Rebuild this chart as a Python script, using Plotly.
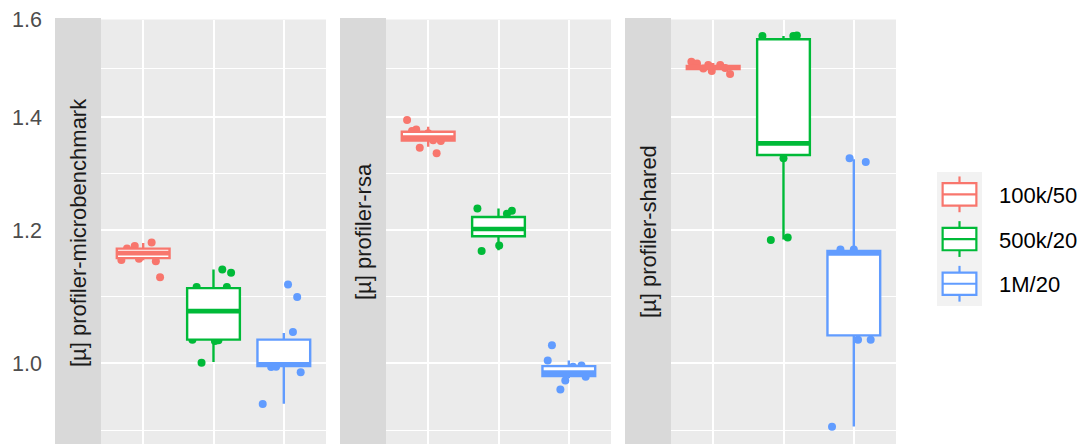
import math
import plotly.graph_objects as go

W, H = 1080, 444

groups = ["100k/50", "500k/20", "1M/20"]
group_colors = ["#F8766D", "#00BA38", "#619CFF"]
facets = ["[µ] profiler-microbenchmark", "[µ] profiler-rsa", "[µ] profiler-shared"]

# --- profiler-microbenchmark -------------------------------------------
micro_values = [
    [1.180, 1.125, 1.174, 1.170, 1.152, 1.154, 1.150, 1.160, 1.166],
    [1.137, 1.132, 1.110, 1.110, 1.033, 1.031, 1.032, 1.001, 1.075, 1.090],
    [1.114, 1.095, 1.044, 0.995, 0.988, 0.946, 0.9955, 1.010, 1.020],
]
micro_jitter = [
    [0.12, 0.24, -0.12, -0.23, -0.31, -0.06, 0.18, 0.05, -0.15],
    [0.125, 0.25, -0.24, 0.19, -0.30, 0.02, 0.07, -0.17, 0.10, -0.10],
    [0.06, 0.19, 0.13, -0.18, 0.24, -0.30, -0.11, 0.05, -0.20],
]
micro_q1 = [1.1548, 1.033, 0.9963]
micro_median = [1.1628, 1.0742, 0.9986]
micro_q3 = [1.1699, 1.1085, 1.033]
micro_lower = [1.1516, 1.0018, 0.9463]
micro_upper = [1.179, 1.1369, 1.0424]

# --- profiler-rsa --------------------------------------------------------
rsa_values = [
    [1.395, 1.377, 1.374, 1.370, 1.343, 1.333, 1.3555, 1.357, 1.365],
    [1.236, 1.232, 1.227, 1.166, 1.175, 1.200, 1.210],
    [1.025, 1.004, 0.997, 0.982, 0.977, 0.965, 0.9955, 0.988],
]
rsa_jitter = [
    [-0.30, -0.17, -0.23, 0.0, -0.12, 0.12, 0.18, 0.07, -0.05],
    [-0.30, 0.19, 0.12, -0.24, 0.01, 0.10, -0.10],
    [-0.24, -0.30, 0.18, 0.24, -0.05, -0.12, 0.06, 0.0],
]
rsa_q1 = [1.3566, 1.190, 0.9828]
rsa_median = [1.3619, 1.2018, 0.9873]
rsa_q3 = [1.3728, 1.2217, 0.9963]
rsa_lower = [1.3448, 1.1674, 0.9797]
rsa_upper = [1.382, 1.2358, 1.0041]

# --- profiler-shared -----------------------------------------------------
shared_values = [
    [1.511, 1.504, 1.504, 1.492, 1.4855, 1.497, 1.507, 1.498],
    [1.565, 1.565, 1.566, 1.324, 1.184, 1.188, 1.450, 1.500],
    [1.324, 1.317, 1.1685, 1.1685, 1.033, 1.033, 0.917, 1.100],
]
shared_jitter = [
    [-0.31, -0.07, 0.10, -0.02, 0.24, -0.14, -0.23, 0.17],
    [-0.30, 0.14, 0.19, 0.0, -0.18, 0.06, 0.10, -0.10],
    [-0.06, 0.17, -0.19, 0.0, 0.06, 0.24, -0.31, 0.10],
]
shared_q1 = [1.496, 1.3298, 1.0391]
shared_median = [1.499, 1.3512, 1.1623]
shared_q3 = [1.502, 1.5579, 1.1663]
shared_lower = [1.490, 1.1845, 0.9174]
shared_upper = [1.508, 1.565, 1.322]

y_ticks = [1.0, 1.2, 1.4, 1.6]
y_ticktext = ["1.0", "1.2", "1.4", "1.6"]

facet_data = [
    dict(values=micro_values, jitter=micro_jitter, q1=micro_q1, med=micro_median,
         q3=micro_q3, lo=micro_lower, hi=micro_upper),
    dict(values=rsa_values, jitter=rsa_jitter, q1=rsa_q1, med=rsa_median,
         q3=rsa_q3, lo=rsa_lower, hi=rsa_upper),
    dict(values=shared_values, jitter=shared_jitter, q1=shared_q1, med=shared_median,
         q3=shared_q3, lo=shared_lower, hi=shared_upper),
]

# ---- geometry (pixels) -----------------------------------------------------
FONT = "Liberation Sans, Arial, Helvetica, sans-serif"
panel_x0 = [101, 386, 671]
panel_w = 225
strip_w = 46
panel_top = 19.5
strip_top = 18
box_width = 0.75
box_line = 2.4
median_line = 4.7
point_size = 8
y_range = [-0.0479, 0.2043]

# ggplot-style minor breaks: midpoints between majors on the log scale
minor_ticks = [y_ticks[0] / math.sqrt(y_ticks[1] / y_ticks[0])] + [
    math.sqrt(a * b) for a, b in zip(y_ticks[:-1], y_ticks[1:])
]


def px(x):
    return x / W


def py(y):
    return 1 - y / H


fig = go.Figure()

for f, fd in enumerate(facet_data):
    xa = "x" if f == 0 else f"x{f + 1}"
    ya = "y" if f == 0 else f"y{f + 1}"
    yo = f"y{f + 4}"
    # jittered observations (underneath the boxes)
    for g, color in enumerate(group_colors):
        fig.add_trace(go.Scatter(
            x=[g + j for j in fd["jitter"][g]], y=fd["values"][g],
            mode="markers", marker=dict(size=point_size, color=color, line=dict(width=0)),
            xaxis=xa, yaxis=ya, showlegend=False, name=groups[g],
        ))
    # boxes on an overlaying axis so they sit above the points
    for g, color in enumerate(group_colors):
        fig.add_trace(go.Box(
            x=[g], q1=[fd["q1"][g]], median=[fd["med"][g]], q3=[fd["q3"][g]],
            lowerfence=[fd["lo"][g]], upperfence=[fd["hi"][g]],
            width=box_width, fillcolor="white", whiskerwidth=0,
            line=dict(color=color, width=box_line), boxpoints=False,
            xaxis=xa, yaxis=yo, showlegend=False, name=groups[g],
        ))
        fig.add_trace(go.Scatter(
            x=[g - box_width / 2, g + box_width / 2], y=[fd["med"][g]] * 2,
            mode="lines", line=dict(color=color, width=median_line),
            xaxis=xa, yaxis=yo, showlegend=False, hoverinfo="skip",
        ))

layout = dict(
    width=W, height=H, autosize=False, template="none",
    margin=dict(l=0, r=0, t=0, b=0, pad=0),
    paper_bgcolor="white", plot_bgcolor="#EBEBEB",
    font=dict(family=FONT, size=22, color="#1A1A1A"),
    showlegend=False, boxmode="overlay",
)

shapes = []
annotations = []
for f in range(3):
    sfx = "" if f == 0 else str(f + 1)
    x0 = panel_x0[f]
    layout[f"xaxis{sfx}"] = dict(
        domain=[px(x0), px(x0 + panel_w)], range=[-0.6, 2.6],
        tickvals=[0, 1, 2], ticktext=groups, showticklabels=False, ticks="",
        showgrid=True, gridcolor="white", gridwidth=2.2,
        zeroline=False, showline=False, anchor=f"y{sfx}", automargin=False,
    )
    layout[f"yaxis{sfx}"] = dict(
        domain=[0, py(panel_top)], type="log", range=y_range,
        tickvals=y_ticks, ticktext=y_ticktext, ticks="",
        showticklabels=(f == 0), ticklabelstandoff=58,
        tickfont=dict(size=21.5, color="#4D4D4D", family=FONT),
        showgrid=True, gridcolor="white", gridwidth=2.2,
        minor=dict(tickvals=minor_ticks, showgrid=True, gridcolor="white",
                   gridwidth=1.1, ticks=""),
        zeroline=False, showline=False, anchor=f"x{sfx}", automargin=False,
    )
    layout[f"yaxis{f + 4}"] = dict(
        domain=[0, py(panel_top)], type="log", range=y_range,
        overlaying=f"y{sfx}", anchor=f"x{sfx}", visible=False,
        showgrid=False, zeroline=False,
    )
    # facet strip on the left of the panel
    shapes.append(dict(
        type="rect", xref="paper", yref="paper", layer="below",
        x0=px(x0 - strip_w), x1=px(x0), y0=0, y1=py(strip_top),
        fillcolor="#D9D9D9", line=dict(width=0),
    ))
    annotations.append(dict(
        xref="paper", yref="paper", x=px(x0 - strip_w / 2), y=py(232),
        text=facets[f], textangle=-90, showarrow=False,
        xanchor="center", yanchor="middle",
        font=dict(size=22, color="#1A1A1A", family=FONT),
    ))

# legend drawn as ggplot-style boxplot keys
leg_x0, leg_x1 = 937, 982
leg_top, key_h = 172, 44.7
shapes.append(dict(
    type="rect", xref="paper", yref="paper",
    x0=px(leg_x0), x1=px(leg_x1), y0=py(leg_top + 3 * key_h), y1=py(leg_top),
    fillcolor="#F2F2F2", line=dict(width=0),
))
for i, (name, color) in enumerate(zip(groups, group_colors)):
    cy = leg_top + key_h * (i + 0.5)
    bx0 = leg_x0 + 0.125 * (leg_x1 - leg_x0)
    bx1 = leg_x0 + 0.875 * (leg_x1 - leg_x0)
    bxm = (leg_x0 + leg_x1) / 2
    half_box = 0.25 * key_h
    half_wh = 0.4 * key_h
    ln = dict(color=color, width=2.2)
    shapes.append(dict(type="line", xref="paper", yref="paper",
                       x0=px(bxm), x1=px(bxm), y0=py(cy - half_wh), y1=py(cy - half_box), line=ln))
    shapes.append(dict(type="line", xref="paper", yref="paper",
                       x0=px(bxm), x1=px(bxm), y0=py(cy + half_box), y1=py(cy + half_wh), line=ln))
    shapes.append(dict(type="rect", xref="paper", yref="paper",
                       x0=px(bx0), x1=px(bx1), y0=py(cy + half_box), y1=py(cy - half_box),
                       fillcolor="white", line=ln))
    shapes.append(dict(type="line", xref="paper", yref="paper",
                       x0=px(bx0), x1=px(bx1), y0=py(cy), y1=py(cy), line=ln))
    annotations.append(dict(
        xref="paper", yref="paper", x=px(997), y=py(cy + 1),
        text=name, showarrow=False, xanchor="left", yanchor="middle",
        font=dict(size=22, color="#000000", family=FONT),
    ))

layout["shapes"] = shapes
layout["annotations"] = annotations
fig.update_layout(**layout)

fig.write_html("out.html")
